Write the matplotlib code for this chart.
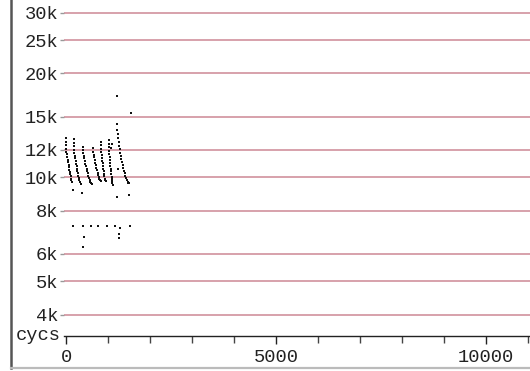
import matplotlib
matplotlib.use('Agg')
import matplotlib.pyplot as plt
from matplotlib.lines import Line2D
from matplotlib.ticker import FixedLocator, NullFormatter

# sawtooth streaks: (cycles, value)
streak1 = [(0, 13000), (2, 12700), (4, 12400), (6, 12100), (10, 11850), (20, 11650),
           (30, 11450), (40, 11250), (50, 11060), (60, 10880), (70, 10700), (80, 10530),
           (90, 10370), (100, 10210), (110, 10060), (120, 9920), (130, 9790), (145, 9660)]
streak2 = [(190, 12900), (192, 12600), (194, 12300), (197, 12000), (202, 11750), (212, 11550),
           (222, 11350), (232, 11150), (242, 10960), (252, 10780), (262, 10600), (272, 10440),
           (282, 10280), (292, 10120), (302, 9980), (315, 9840), (330, 9700), (345, 9580)]
streak3 = [(405, 12270), (407, 12000), (410, 11750), (418, 11550), (432, 11350), (446, 11150),
           (460, 10960), (474, 10780), (488, 10600), (502, 10440), (516, 10280), (530, 10120),
           (545, 9980), (560, 9850), (580, 9720), (600, 9640), (620, 9580)]
streak4 = [(650, 12140), (652, 11880), (656, 11630), (668, 11420), (682, 11220), (696, 11020),
           (710, 10830), (724, 10650), (738, 10480), (752, 10320), (766, 10160), (780, 10010),
           (795, 9880), (810, 9790), (825, 9750), (840, 9730)]
streak5 = [(833, 12680), (835, 12400), (837, 12120), (840, 11850), (846, 11620), (854, 11400),
           (862, 11180), (870, 10970), (878, 10770), (886, 10580), (894, 10400), (902, 10230),
           (912, 10070), (922, 9920), (934, 9800), (950, 9730)]
streak6 = [(1017, 12830), (1019, 12520), (1021, 12220), (1024, 11930), (1030, 11680), (1037, 11450),
           (1044, 11220), (1051, 11000), (1058, 10790), (1065, 10590), (1072, 10400), (1079, 10220),
           (1086, 10050), (1093, 9880), (1100, 9730), (1106, 9600), (1112, 9500)]
streak7 = [(1207, 14270), (1225, 13750), (1236, 13350), (1244, 12980), (1252, 12650), (1262, 12330),
           (1275, 12050), (1290, 11780), (1305, 11540), (1320, 11300), (1335, 11080), (1350, 10860),
           (1365, 10650), (1380, 10450), (1395, 10260), (1410, 10090), (1425, 9940), (1445, 9800),
           (1465, 9700), (1485, 9640), (1507, 9600)]
# low row near 7.2k and scattered outliers
row_low = [(174, 7230), (412, 7240), (588, 7230), (769, 7230), (969, 7230), (1167, 7220),
           (1286, 7150), (1524, 7230)]
strays = [(160, 9190), (374, 8990), (1221, 8790), (1507, 8890), (1230, 10550), (1221, 17210),
          (1540, 15330), (1080, 12150), (1100, 12450), (436, 6730), (412, 6290), (1262, 6850),
          (1262, 6660)]

yticks = [4000, 5000, 6000, 8000, 10000, 12000, 15000, 20000, 25000, 30000]
ylabels = ['4k', '5k', '6k', '8k', '10k', '12k', '15k', '20k', '25k', '30k']
xticks = [0, 5000, 10000]

W, H = 530, 371
fig = plt.figure(figsize=(W / 100, H / 100), dpi=100)
plt.rcParams['font.family'] = ['Liberation Mono', 'DejaVu Sans Mono']

ax = fig.add_axes([64 / W, (H - 336) / H, (W - 64) / W, 336 / H])
ax.set_yscale('log')
ax.set_xlim(-48, 11048)
ax.set_ylim(3467, 32660)

for y in yticks:
    ax.axhline(y, color='#d49aa5', lw=1.3, zorder=1)

pts = streak1 + streak2 + streak3 + streak4 + streak5 + streak6 + streak7 + row_low + strays
xs = [p[0] for p in pts]
ys = [p[1] for p in pts]
ax.plot(xs, ys, ls='none', marker='s', ms=1.6, mew=0, color='#111111', zorder=3)

ax.yaxis.set_major_locator(FixedLocator(yticks))
ax.yaxis.set_minor_locator(FixedLocator([]))
ax.set_yticklabels(ylabels)
ax.yaxis.set_minor_formatter(NullFormatter())
ax.set_xticks(xticks)
ax.set_xticklabels(['0', '5000', '10000'])
ax.xaxis.set_minor_locator(FixedLocator(range(0, 11001, 1000)))

ax.tick_params(axis='y', which='major', length=3, width=1, color='#999999', pad=1,
               labelsize=13.5, labelcolor='#222222')
ax.tick_params(axis='x', which='major', length=6, width=1, color='#222222', pad=3,
               labelsize=13.5, labelcolor='#222222')
ax.tick_params(axis='x', which='minor', length=5, width=1, color='#444444')

for s in ('top', 'right', 'left'):
    ax.spines[s].set_visible(False)
ax.spines['bottom'].set_color('#222222')
ax.spines['bottom'].set_linewidth(1)

fig.text(61 / W, 1 - 340 / H, 'cycs', ha='right', va='baseline', fontsize=13.5, color='#222222')

# window frame: dark left edge and grey bottom edge
fig.add_artist(Line2D([11 / W, 11 / W], [1 - 368 / H, 1], color='#555555', lw=1.8))
fig.add_artist(Line2D([11 / W, 1], [1 - 368 / H, 1 - 368 / H], color='#bbbbbb', lw=1.6))

fig.savefig('out.png', dpi=100)
